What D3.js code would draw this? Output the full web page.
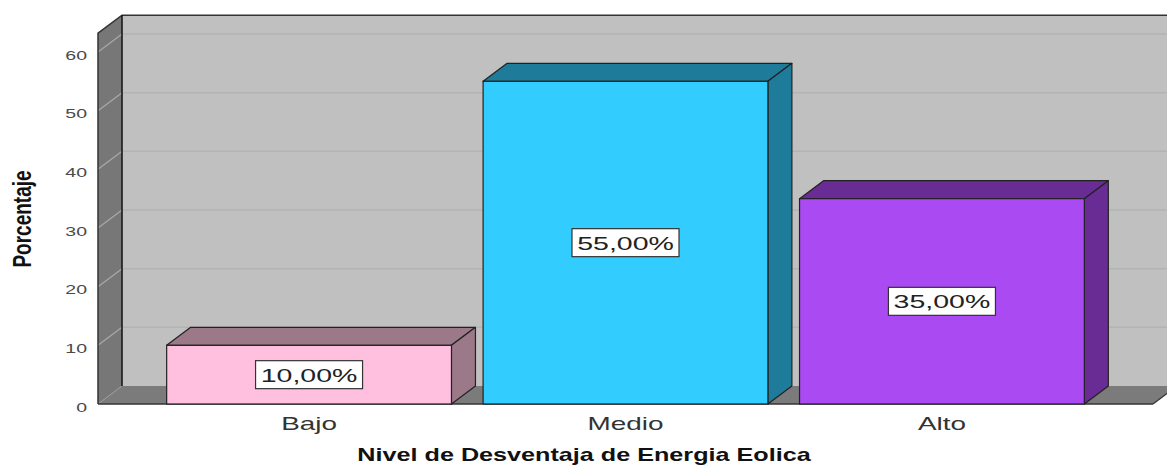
<!DOCTYPE html>
<html>
<head>
<meta charset="utf-8">
<script src="https://cdn.jsdelivr.net/npm/d3@7/dist/d3.min.js"></script>
<style>
  html, body { margin: 0; padding: 0; background: #ffffff; }
  svg { display: block; }
  text { font-family: "Liberation Sans", Arial, sans-serif; }
</style>
</head>
<body>
<svg id="chart" width="1167" height="470"></svg>
<script>
// Chart data
const categories = ["Bajo", "Medio", "Alto"];
const percentages = [10, 55, 35];
const yTicks = [0, 10, 20, 30, 40, 50, 60];
const xTitle = "Nivel de Desventaja de Energia Eolica";
const yTitle = "Porcentaje";

// Face colours per bar: front face, top/side face
const frontColors = ["#ffc0e0", "#33ccff", "#aa4af2"];
const shadeColors = ["#9c7988", "#1f7b9a", "#692b94"];

const svg = d3.select("#chart");

// Front plane geometry and 3D depth offset
const plotLeft = 98, plotRight = 1153;
const depthX = 24, depthY = -18;
const wallTopValue = 63.2;
const textStretch = 1.5;

const x = d3.scaleBand()
  .domain(categories)
  .range([plotLeft, plotRight])
  .paddingInner(0.1)
  .paddingOuter(0.217);

const y = d3.scaleLinear()
  .domain([0, 60])
  .range([404, 52]);

const fmt = v => d3.format(".2f")(v).replace(".", ",") + "%";
const pts = arr => arr.map(p => p.join(",")).join(" ");

const y0 = y(0), yTop = y(wallTopValue);
const backRight = plotRight + depthX;

// Back wall
svg.append("polygon")
  .attr("points", pts([[plotLeft + depthX, yTop + depthY], [backRight + 40, yTop + depthY],
                       [backRight + 40, y0 + depthY], [plotLeft + depthX, y0 + depthY]]))
  .attr("fill", "#c0c0c0");

// Back wall gridlines
svg.append("g").selectAll("line")
  .data(yTicks.filter(t => t > 0))
  .join("line")
  .attr("x1", plotLeft + depthX).attr("x2", backRight + 40)
  .attr("y1", d => y(d) + depthY).attr("y2", d => y(d) + depthY)
  .attr("stroke", "#b3b3b3").attr("stroke-width", 1.5);

// Left side wall
svg.append("polygon")
  .attr("points", pts([[plotLeft, yTop], [plotLeft + depthX, yTop + depthY],
                       [plotLeft + depthX, y0 + depthY], [plotLeft, y0]]))
  .attr("fill", "#777777");

// Side wall gridlines
svg.append("g").selectAll("line")
  .data(yTicks.filter(t => t > 0))
  .join("line")
  .attr("x1", plotLeft).attr("x2", plotLeft + depthX)
  .attr("y1", d => y(d)).attr("y2", d => y(d) + depthY)
  .attr("stroke", "#a9a9a9").attr("stroke-width", 1.2);

// Floor
svg.append("polygon")
  .attr("points", pts([[plotLeft, y0], [plotLeft + depthX, y0 + depthY],
                       [backRight + 40, y0 + depthY], [backRight + 40, y0], [plotRight, y0]]))
  .attr("fill", "#7b7b7b");
svg.append("polygon")
  .attr("points", pts([[plotRight, y0], [backRight + 40, y0 + depthY - 30], [backRight + 40, y0 + 10], [plotRight, y0 + 10]]))
  .attr("fill", "#ffffff");
svg.append("line")
  .attr("x1", plotRight).attr("y1", y0).attr("x2", backRight).attr("y2", y0 + depthY)
  .attr("stroke", "#333").attr("stroke-width", 1.2);
svg.append("line")
  .attr("x1", plotLeft).attr("y1", y0).attr("x2", plotLeft + depthX).attr("y2", y0 + depthY)
  .attr("stroke", "#9a9a9a").attr("stroke-width", 1);

// Wall outlines
svg.append("path")
  .attr("d", `M${plotLeft},${y0} L${plotLeft},${yTop} L${plotLeft + depthX},${yTop + depthY} L${backRight + 40},${yTop + depthY}`)
  .attr("fill", "none").attr("stroke", "#333").attr("stroke-width", 1.5);
svg.append("line")
  .attr("x1", plotLeft + depthX).attr("y1", yTop + depthY)
  .attr("x2", plotLeft + depthX).attr("y2", y0 + depthY)
  .attr("stroke", "#111").attr("stroke-width", 1.5);
svg.append("line")
  .attr("x1", plotLeft).attr("y1", y0).attr("x2", plotRight).attr("y2", y0)
  .attr("stroke", "#333").attr("stroke-width", 1.5);

// Bars
const bars = svg.append("g").selectAll("g")
  .data(categories.map((c, i) => ({ c, v: percentages[i], i })))
  .join("g");

bars.each(function (d) {
  const g = d3.select(this);
  const x0 = x(d.c), x1 = x(d.c) + x.bandwidth();
  const yt = y(d.v);
  // top face
  g.append("polygon")
    .attr("points", pts([[x0, yt], [x1, yt], [x1 + depthX, yt + depthY], [x0 + depthX, yt + depthY]]))
    .attr("fill", shadeColors[d.i]).attr("stroke", "#222").attr("stroke-width", 1.2)
    .attr("stroke-linejoin", "round");
  // side face
  g.append("polygon")
    .attr("points", pts([[x1, yt], [x1 + depthX, yt + depthY], [x1 + depthX, y0 + depthY], [x1, y0]]))
    .attr("fill", shadeColors[d.i]).attr("stroke", "#222").attr("stroke-width", 1.2)
    .attr("stroke-linejoin", "round");
  // front face
  g.append("rect")
    .attr("x", x0).attr("y", yt)
    .attr("width", x1 - x0).attr("height", y0 - yt)
    .attr("fill", frontColors[d.i]).attr("stroke", "#222").attr("stroke-width", 1.2);
});

// Value labels in boxes
bars.each(function (d) {
  const g = d3.select(this);
  const cx = x(d.c) + x.bandwidth() / 2;
  const cy = (y(d.v) + y0) / 2;
  const bw = 107, bh = 28;
  g.append("rect")
    .attr("x", cx - bw / 2).attr("y", cy - bh / 2)
    .attr("width", bw).attr("height", bh)
    .attr("fill", "#ffffff").attr("stroke", "#333").attr("stroke-width", 1.2);
  g.append("text")
    .attr("transform", `translate(${cx},${cy + 7}) scale(${textStretch},1)`)
    .attr("text-anchor", "middle")
    .attr("font-size", 19)
    .attr("fill", "#222")
    .text(fmt(d.v));
});

// Y axis tick labels
svg.append("g").selectAll("text")
  .data(yTicks)
  .join("text")
  .attr("transform", d => `translate(87,${y(d) + 7.5}) scale(${textStretch},1)`)
  .attr("text-anchor", "end")
  .attr("font-size", 13)
  .attr("fill", "#4a4a4a")
  .text(d => d);

// X axis category labels
svg.append("g").selectAll("text")
  .data(categories)
  .join("text")
  .attr("transform", d => `translate(${x(d) + x.bandwidth() / 2},430) scale(1.55,1)`)
  .attr("text-anchor", "middle")
  .attr("font-size", 18)
  .attr("fill", "#333")
  .text(d => d);

// Axis titles
svg.append("text")
  .attr("transform", `translate(584,461) scale(1.4,1)`)
  .attr("text-anchor", "middle")
  .attr("font-size", 18)
  .attr("font-weight", "bold")
  .attr("fill", "#111")
  .text(xTitle);

svg.append("text")
  .attr("transform", `translate(31,219) scale(1.35,1) rotate(-90)`)
  .attr("text-anchor", "middle")
  .attr("font-size", 19)
  .attr("font-weight", "bold")
  .attr("fill", "#111")
  .text(yTitle);
</script>
</body>
</html>
